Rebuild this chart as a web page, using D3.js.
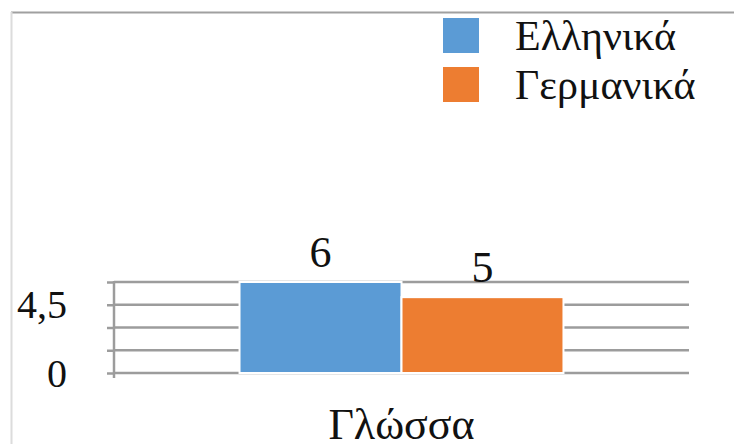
<!DOCTYPE html>
<html>
<head>
<meta charset="utf-8">
<script src="https://cdn.jsdelivr.net/npm/d3@7/dist/d3.min.js"></script>
<style>
  html, body { margin: 0; padding: 0; background: #fff; }
  svg { display: block; }
  text { font-family: "Liberation Serif", "DejaVu Serif", serif; fill: #111; }
</style>
</head>
<body>
<svg id="chart" width="734" height="444"></svg>
<script>
// Chart data
const categories = ["Γλώσσα"];
const seriesNames = ["Ελληνικά", "Γερμανικά"];
const seriesValues = [6, 5];
const seriesColors = ["#5B9BD5", "#ED7D31"];
const tickValues = [0, 1.5, 3, 4.5, 6];
const tickLabels = ["0", "", "", "4,5", ""];

const svg = d3.select("#chart");
const lineGrey = "#9c9c9c";

// Frame lines around the chart area
svg.append("line")
  .attr("x1", 11).attr("x2", 734).attr("y1", 12.5).attr("y2", 12.5)
  .attr("stroke", "#a0a0a0").attr("stroke-width", 2);
svg.append("line")
  .attr("x1", 11.5).attr("x2", 11.5).attr("y1", 12).attr("y2", 444)
  .attr("stroke", "#dcdcdc").attr("stroke-width", 2);

const plot = { left: 114, right: 689, top: 282, bottom: 373 };

const y = d3.scaleLinear().domain([0, 6]).range([plot.bottom, plot.top]);
const x0 = d3.scaleBand().domain(categories)
  .range([plot.left, plot.right]).paddingInner(0).paddingOuter(0.3875);
const x1 = d3.scaleBand().domain(seriesNames).range([0, x0.bandwidth()]).padding(0);

// Gridlines
svg.append("g")
  .selectAll("line")
  .data(tickValues)
  .join("line")
  .attr("x1", plot.left).attr("x2", plot.right)
  .attr("y1", d => y(d)).attr("y2", d => y(d))
  .attr("stroke", lineGrey).attr("stroke-width", 2.5);

// Y axis with outward tick marks
const yAxis = d3.axisLeft(y).tickValues(tickValues).tickSize(7).tickFormat("");
const gy = svg.append("g").attr("transform", `translate(${plot.left},0)`).call(yAxis);
gy.select(".domain").remove();
gy.selectAll(".tick line").attr("stroke", lineGrey).attr("stroke-width", 2.5);
svg.append("line")
  .attr("x1", plot.left).attr("x2", plot.left)
  .attr("y1", plot.top - 1).attr("y2", plot.bottom + 5)
  .attr("stroke", lineGrey).attr("stroke-width", 2.5);

// Y tick labels
svg.append("g")
  .selectAll("text")
  .data(tickValues)
  .join("text")
  .attr("x", 67)
  .attr("y", d => y(d))
  .attr("dy", "0.34em")
  .attr("text-anchor", "end")
  .attr("font-size", 40)
  .text((d, i) => tickLabels[i]);

// Bars
const bars = svg.append("g")
  .selectAll("g")
  .data(categories)
  .join("g")
  .attr("transform", d => `translate(${x0(d)},0)`);

bars.selectAll("rect")
  .data(seriesNames.map((s, i) => ({ s, v: seriesValues[i], c: seriesColors[i] })))
  .join("rect")
  .attr("x", d => x1(d.s))
  .attr("width", x1.bandwidth())
  .attr("y", d => y(d.v))
  .attr("height", d => y(0) - y(d.v))
  .attr("fill", d => d.c)
  .attr("stroke", "#fff")
  .attr("stroke-width", 2);

// Value labels
bars.selectAll("text")
  .data(seriesNames.map((s, i) => ({ s, v: seriesValues[i] })))
  .join("text")
  .attr("x", d => x1(d.s) + x1.bandwidth() / 2)
  .attr("y", d => y(d.v) - 15)
  .attr("text-anchor", "middle")
  .attr("font-size", 44)
  .text(d => d.v);

// Category label
svg.selectAll(".cat")
  .data(categories)
  .join("text")
  .attr("class", "cat")
  .attr("x", d => x0(d) + x0.bandwidth() / 2)
  .attr("y", 439)
  .attr("text-anchor", "middle")
  .attr("font-size", 44)
  .text(d => d);

// Legend
const legend = svg.append("g")
  .selectAll("g")
  .data(seriesNames)
  .join("g")
  .attr("transform", (d, i) => `translate(443,${18 + i * 49})`);
legend.append("rect")
  .attr("width", 36).attr("height", 35)
  .attr("fill", (d, i) => seriesColors[i]);
legend.append("text")
  .attr("x", 72).attr("y", 32)
  .attr("font-size", 42)
  .text(d => d);
</script>
</body>
</html>
